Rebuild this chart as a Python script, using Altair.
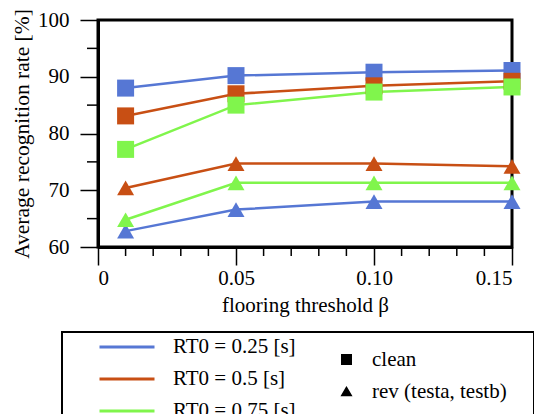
import altair as alt
import pandas as pd

betas = [0.01, 0.05, 0.10, 0.15]
series = ["RT0 = 0.25 [s]", "RT0 = 0.5 [s]", "RT0 = 0.75 [s]"]
conds = ["clean", "rev (testa, testb)"]
colors = ["#5677d4", "#c84f14", "#80f54c"]

clean_025 = [88.0, 90.2, 90.8, 91.1]
clean_05 = [83.1, 87.0, 88.4, 89.2]
clean_075 = [77.2, 85.0, 87.3, 88.2]
rev_025 = [62.8, 66.6, 68.0, 68.0]
rev_05 = [70.4, 74.7, 74.7, 74.2]
rev_075 = [64.8, 71.3, 71.3, 71.3]

y_major = [60, 70, 80, 90, 100]
y_minor = [65, 75, 85, 95]
x_major = [0, 0.05, 0.10, 0.15]
x_minor = [0.01, 0.02, 0.03, 0.04, 0.06, 0.07, 0.08, 0.09, 0.11, 0.12, 0.13, 0.14]

rows = []
for s, c, vals in [
    (series[0], conds[0], clean_025), (series[1], conds[0], clean_05), (series[2], conds[0], clean_075),
    (series[0], conds[1], rev_025), (series[1], conds[1], rev_05), (series[2], conds[1], rev_075),
]:
    for b, v in zip(betas, vals):
        rows.append({"beta": b, "rate": v, "rt": s, "cond": c})
df = pd.DataFrame(rows)

FONT = "Liberation Serif, Times New Roman, serif"
W, H = 414, 227

xs = alt.Scale(domain=[0, 0.15], nice=False, zero=False)
ys = alt.Scale(domain=[60, 100], nice=False, zero=False)

x_enc = alt.X("beta:Q", scale=xs, title="flooring threshold β",
              axis=alt.Axis(values=x_major, tickSize=18, tickWidth=1.5, tickColor="black",
                            labelExpr="datum.value == 0 ? '0' : format(datum.value, '.2f')",
                            labelFont=FONT, labelFontSize=21, labelColor="black", labelPadding=2,
                            titleFont=FONT, titleFontSize=21, titleFontWeight="normal",
                            titleColor="black", titlePadding=6, grid=False,
                            domainColor="black", domainWidth=3))
y_enc = alt.Y("rate:Q", scale=ys, title="Average recognition rate [%]",
              axis=alt.Axis(values=y_major, tickSize=18, tickWidth=1.5, tickColor="black",
                            labelFont=FONT, labelFontSize=21, labelColor="black", labelPadding=11,
                            titleFont=FONT, titleFontSize=21.5, titleFontWeight="normal",
                            titleColor="black", titlePadding=4, grid=False,
                            domainColor="black", domainWidth=3))

color_scale = alt.Scale(domain=series, range=colors)

lines = alt.Chart(df).mark_line(strokeWidth=2.5, clip=False).encode(
    x=x_enc, y=y_enc,
    color=alt.Color("rt:N", scale=color_scale, title=None,
                    legend=alt.Legend(orient="none", legendX=16.5, legendY=314.5,
                                      symbolType="M-2.5,0H2.5", symbolSize=484,
                                      symbolStrokeWidth=3, labelOffset=33.5,
                                      labelFont=FONT, labelFontSize=21, labelColor="black",
                                      labelLimit=300, rowPadding=9, padding=0)),
    detail="cond:N",
)

points = alt.Chart(df).mark_point(filled=True, opacity=1, size=289, clip=False).encode(
    x=alt.X("beta:Q", scale=xs), y=alt.Y("rate:Q", scale=ys),
    color=alt.Color("rt:N", scale=color_scale, legend=None),
    shape=alt.Shape("cond:N", scale=alt.Scale(domain=conds, range=["square", "triangle-up"]),
                    title=None,
                    legend=alt.Legend(orient="none", legendX=238, legendY=329, symbolSize=90,
                                      symbolFillColor="black", symbolStrokeColor="black",
                                      symbolOpacity=1, labelOffset=15,
                                      labelFont=FONT, labelFontSize=21, labelColor="black",
                                      labelLimit=300, rowPadding=10, padding=0)),
)

ymin = alt.Chart(pd.DataFrame({"v": y_minor})).mark_rule(color="black", strokeWidth=1.5, clip=False).encode(
    y=alt.Y("v:Q", scale=ys), x=alt.value(-11), x2=alt.value(0))
xmin = alt.Chart(pd.DataFrame({"v": x_minor})).mark_rule(color="black", strokeWidth=1.5, clip=False).encode(
    x=alt.X("v:Q", scale=xs), y=alt.value(H), y2=alt.value(H + 9))

box = alt.Chart(pd.DataFrame({"a": [0]})).mark_rect(fill=None, stroke="black", strokeWidth=2, clip=False).encode(
    x=alt.value(-36), x2=alt.value(436), y=alt.value(312), y2=alt.value(440))

chart = alt.layer(ymin, xmin, box, lines, points).properties(
    width=W, height=H, padding={"left": 90, "top": 12, "right": 22, "bottom": 220},
    autosize=alt.AutoSizeParams(type="none"),
).configure_view(stroke="black", strokeWidth=3).resolve_scale(color="shared")

chart.save("out.html", embed_options={"renderer": "svg", "actions": False})
